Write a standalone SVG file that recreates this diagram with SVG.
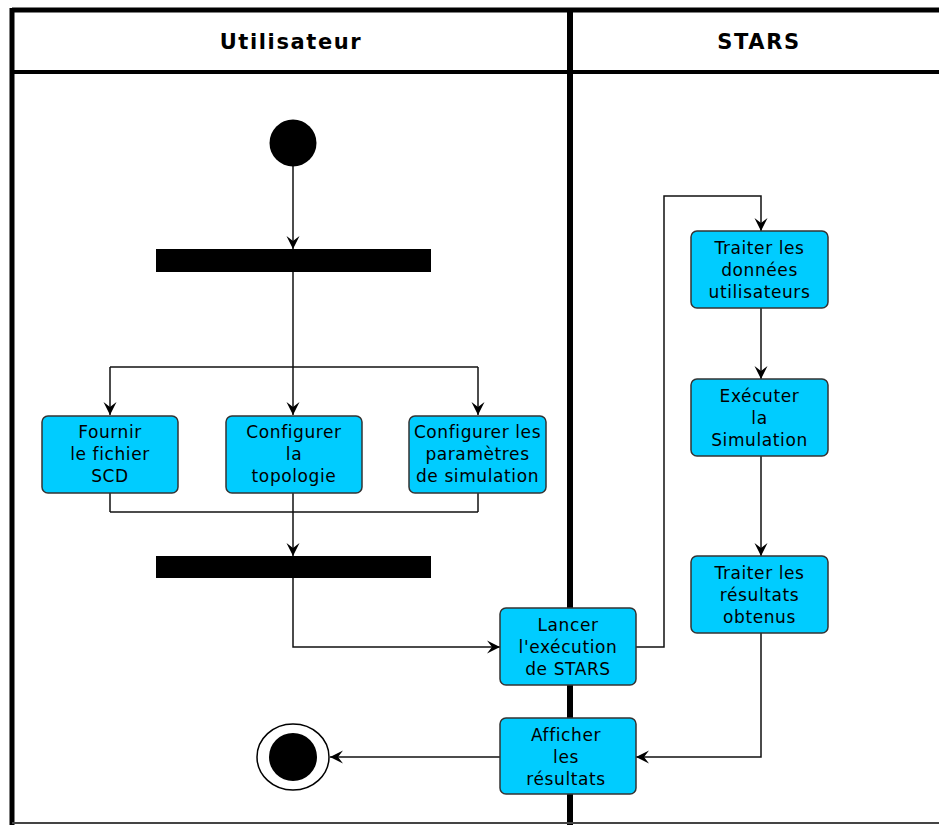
<svg xmlns="http://www.w3.org/2000/svg" width="939" height="825" viewBox="0 0 939 825">
  <defs>
    <marker id="arr" viewBox="-14 -7 15 14" markerWidth="15" markerHeight="14" markerUnits="userSpaceOnUse" refX="0" refY="0" orient="auto">
      <path d="M-13,-6.5 L0,0 L-13,6.5 L-8,0 Z" fill="#000"/>
    </marker>
    <style>
      .frame { stroke: #000; fill: none; }
      .hdr { font-family: "DejaVu Sans", sans-serif; font-size: 21px; font-weight: bold; letter-spacing: 1.6px; text-anchor: middle; fill: #000; }
      .box { fill: #00ccff; stroke: #333; stroke-width: 1.5; }
      .lbl { font-family: "DejaVu Sans", sans-serif; font-size: 17px; letter-spacing: 0.6px; text-anchor: middle; fill: #000; }
      .bar { fill: #000; }
      .edge { stroke: #111; stroke-width: 1.5; fill: none; }
      .arrow { marker-end: url(#arr); }
    </style>
  </defs>
  <rect width="939" height="825" fill="#fff"/>

  <g id="lanes">
    <line class="frame" x1="12" y1="10" x2="939" y2="10" stroke-width="5"/>
    <line class="frame" x1="12" y1="72" x2="939" y2="72" stroke-width="4"/>
    <line class="frame" x1="12" y1="8" x2="12" y2="825" stroke-width="5"/>
    <line class="frame" x1="570" y1="8" x2="570" y2="825" stroke-width="6"/>
    <line x1="12" y1="823" x2="939" y2="823" stroke="#444" stroke-width="2"/>
    <text class="hdr" x="291" y="49">Utilisateur</text>
    <text class="hdr" x="759" y="49">STARS</text>
  </g>

  <g id="connectors">
    <line class="edge arrow" x1="293" y1="166" x2="293" y2="249"/>
    <line class="edge" x1="293" y1="272" x2="293" y2="367"/>
    <line class="edge" x1="110" y1="367" x2="478" y2="367"/>
    <line class="edge arrow" x1="110" y1="367" x2="110" y2="415"/>
    <line class="edge arrow" x1="293" y1="367" x2="293" y2="415"/>
    <line class="edge arrow" x1="478" y1="367" x2="478" y2="415"/>
    <line class="edge" x1="110" y1="493" x2="110" y2="512"/>
    <line class="edge" x1="293" y1="493" x2="293" y2="512"/>
    <line class="edge" x1="478" y1="493" x2="478" y2="512"/>
    <line class="edge" x1="110" y1="512" x2="478" y2="512"/>
    <line class="edge arrow" x1="293" y1="512" x2="293" y2="556"/>
    <polyline class="edge arrow" points="293,578 293,647 500,647"/>
    <polyline class="edge arrow" points="636,647 664,647 664,196 761,196 761,231"/>
    <line class="edge arrow" x1="761" y1="308" x2="761" y2="379"/>
    <line class="edge arrow" x1="761" y1="456" x2="761" y2="556"/>
    <polyline class="edge arrow" points="761,633 761,757 636,757"/>
    <line class="edge arrow" x1="500" y1="757" x2="330" y2="757"/>
  </g>

  <g id="start">
    <circle cx="293" cy="143" r="23.5" fill="#000"/>
  </g>
  <g id="fork">
    <rect class="bar" x="156" y="249" width="275" height="23"/>
  </g>
  <g id="join">
    <rect class="bar" x="156" y="556" width="275" height="22"/>
  </g>

  <g id="fournir">
    <rect class="box" x="42" y="416" width="136" height="77" rx="6"/>
    <text class="lbl" x="110" y="438">Fournir</text>
    <text class="lbl" x="110" y="460">le fichier</text>
    <text class="lbl" x="110" y="482">SCD</text>
  </g>
  <g id="topologie">
    <rect class="box" x="226" y="416" width="136" height="77" rx="6"/>
    <text class="lbl" x="294" y="438">Configurer</text>
    <text class="lbl" x="294" y="460">la</text>
    <text class="lbl" x="294" y="482">topologie</text>
  </g>
  <g id="parametres">
    <rect class="box" x="409" y="416" width="137" height="77" rx="6"/>
    <text class="lbl" x="477.5" y="438">Configurer les</text>
    <text class="lbl" x="477.5" y="460">paramètres</text>
    <text class="lbl" x="477.5" y="482">de simulation</text>
  </g>
  <g id="lancer">
    <rect class="box" x="500" y="608" width="136" height="77" rx="6"/>
    <text class="lbl" x="568" y="631">Lancer</text>
    <text class="lbl" x="568" y="653">l'exécution</text>
    <text class="lbl" x="568" y="675">de STARS</text>
  </g>
  <g id="afficher">
    <rect class="box" x="500" y="718" width="136" height="76" rx="6"/>
    <text class="lbl" x="566" y="741">Afficher</text>
    <text class="lbl" x="566" y="763">les</text>
    <text class="lbl" x="566" y="785">résultats</text>
  </g>
  <g id="traiter-donnees">
    <rect class="box" x="691" y="231" width="137" height="77" rx="6"/>
    <text class="lbl" x="759.5" y="254">Traiter les</text>
    <text class="lbl" x="759.5" y="276">données</text>
    <text class="lbl" x="759.5" y="298">utilisateurs</text>
  </g>
  <g id="executer">
    <rect class="box" x="691" y="379" width="137" height="77" rx="6"/>
    <text class="lbl" x="759.5" y="402">Exécuter</text>
    <text class="lbl" x="759.5" y="424">la</text>
    <text class="lbl" x="759.5" y="446">Simulation</text>
  </g>
  <g id="traiter-resultats">
    <rect class="box" x="691" y="556" width="137" height="77" rx="6"/>
    <text class="lbl" x="759.5" y="579">Traiter les</text>
    <text class="lbl" x="759.5" y="601">résultats</text>
    <text class="lbl" x="759.5" y="623">obtenus</text>
  </g>

  <g id="end">
    <ellipse cx="293" cy="757" rx="36" ry="33" fill="#fff" stroke="#000" stroke-width="1.5"/>
    <circle cx="293" cy="757" r="24" fill="#000"/>
  </g>
</svg>
